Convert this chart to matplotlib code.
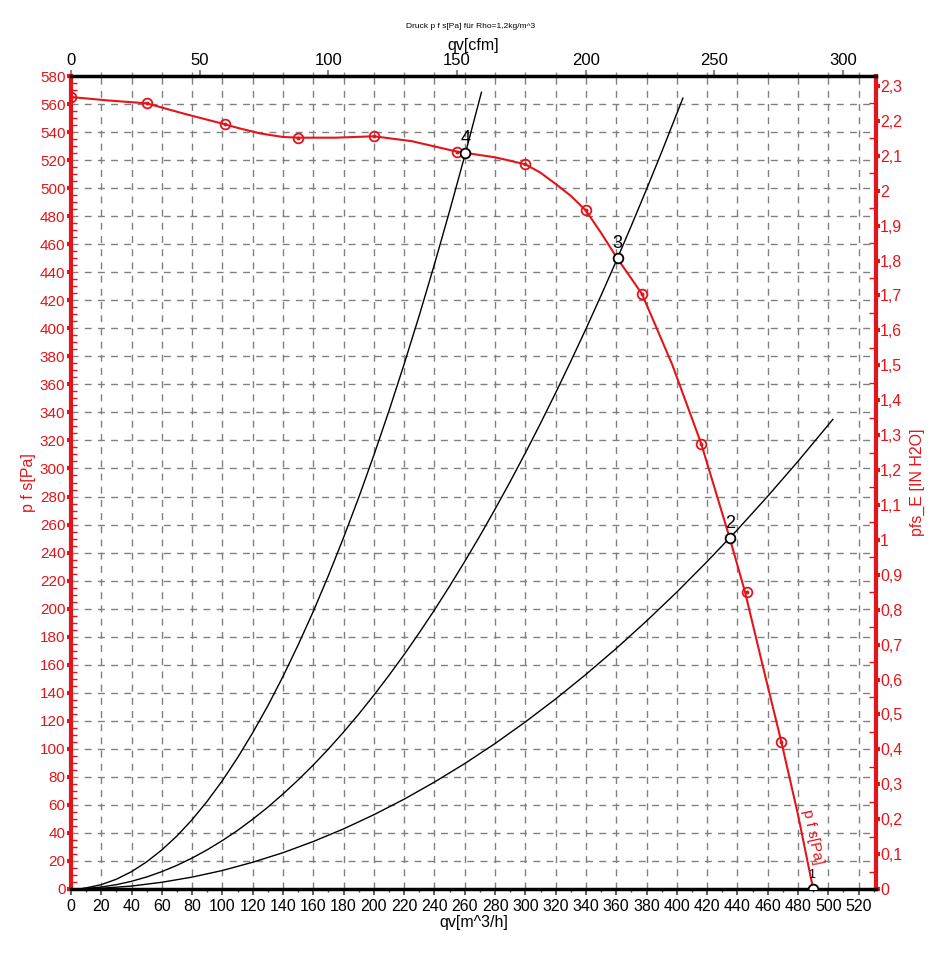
import matplotlib
matplotlib.use("Agg")
import matplotlib.pyplot as plt
from matplotlib.ticker import MultipleLocator, FixedLocator, FuncFormatter

plt.rcParams['font.family'] = ['Liberation Sans', 'DejaVu Sans']

RED = '#e3151a'
GRID = '#808080'

# Fan curve p_fs [Pa] vs qv [m^3/h]
fan_q = [0, 25, 50, 75, 100, 110, 125, 140, 150, 175, 200, 225, 255, 280, 300,
         310, 320, 330, 340, 350, 360, 377, 397, 416, 435, 445, 457, 469, 480, 490]
fan_p = [565, 562.5, 560.5, 553, 546, 543, 539, 536.5, 536, 536, 537, 533.5, 526,
         522, 517, 511, 503, 494.5, 484, 468, 451, 424.5, 374, 318, 250, 212, 158,
         105, 53, 0]

# Measured points (circle markers)
meas_q = [0, 50, 102, 150, 200, 255, 300, 340, 377, 416, 446, 469]
meas_p = [565, 560.7, 545.8, 535.8, 537.2, 525.8, 517, 484.4, 424.5, 317.5, 211.9, 104.9]

# System curves
sys4_q = [8, 10, 20, 30, 40, 50, 60, 70, 80, 90, 100, 110, 120, 130, 140, 150,
          160, 170, 180, 190, 200, 210, 220, 230, 240, 250, 260, 271]
sys4_p = [0.5, 0.8, 3.1, 7.0, 12.4, 19.4, 27.9, 37.9, 49.5, 62.7, 77.4, 93.7,
          111.5, 130.8, 151.7, 174.2, 198.1, 223.7, 250.8, 279.4, 309.6, 341.3,
          374.6, 409.4, 445.8, 483.8, 523.2, 568.4]
sys3_q = [8, 10, 20, 30, 40, 50, 60, 70, 80, 90, 100, 110, 120, 130, 140, 150,
          160, 170, 180, 190, 200, 210, 220, 230, 240, 250, 260, 270, 280, 290,
          300, 310, 320, 330, 340, 350, 360, 370, 380, 390, 404]
sys3_p = [0.2, 0.3, 1.4, 3.1, 5.5, 8.6, 12.4, 16.9, 22.1, 28.0, 34.6, 41.8, 49.8,
          58.4, 67.8, 77.8, 88.5, 99.9, 112.0, 124.8, 138.3, 152.5, 167.3, 182.9,
          199.1, 216.1, 233.7, 252.0, 271.0, 290.7, 311.1, 332.2, 354.0, 376.5,
          399.6, 423.5, 448.0, 473.3, 499.2, 525.8, 564.2]
sys2_q = [8, 20, 40, 60, 80, 100, 120, 140, 160, 180, 200, 220, 240, 260, 280,
          300, 320, 340, 360, 380, 400, 420, 440, 460, 480, 503]
sys2_p = [0.1, 0.5, 2.1, 4.8, 8.5, 13.2, 19.1, 25.9, 33.9, 42.9, 53.0, 64.1, 76.3,
          89.5, 103.8, 119.2, 135.6, 153.1, 171.6, 191.2, 211.8, 233.6, 256.3,
          280.2, 305.1, 335.0]

# Operating points
op_labels = ['1', '2', '3', '4']
op_q = [490, 434.9, 360.9, 260.4]
op_p = [0, 250.4, 450.2, 525]

x_ticks = list(range(0, 521, 20))
y_ticks = list(range(0, 581, 20))
cfm_ticks = [0, 50, 100, 150, 200, 250, 300]
inh2o_ticks = [i / 10 for i in range(0, 24)]

CFM = 1.699
INH2O = 249.089

fig = plt.figure(figsize=(9.42, 9.67), dpi=100)
ax = fig.add_axes([71 / 942, 1 - 889 / 967, (876 - 71) / 942, (889 - 76) / 967])
ax.set_xlim(0, 531.5)
ax.set_ylim(0, 580)

# grid
ax.set_xticks(x_ticks)
ax.set_yticks(y_ticks)
ax.grid(True, color=GRID, linestyle=(0, (5, 4.5)), linewidth=1.0)
ax.set_axisbelow(True)

# system curves
for q, p in [(sys4_q, sys4_p), (sys3_q, sys3_p), (sys2_q, sys2_p)]:
    ax.plot(q, p, color='black', lw=1.0, zorder=3)

# fan curve
ax.plot(fan_q, fan_p, color=RED, lw=1.5, zorder=4)
ax.plot(meas_q, meas_p, ls='none', marker='o', ms=7, mfc='none', mec=RED,
        mew=1.3, zorder=5)
ax.plot(meas_q, meas_p, ls='none', marker='o', ms=1.8, mfc=RED, mec=RED,
        zorder=5)

# operating points
ax.plot(op_q, op_p, ls='none', marker='o', ms=7, mfc='white', mec='black',
        mew=1.3, zorder=6)
for lab, q, p in zip(op_labels, op_q, op_p):
    if lab == '1':
        ax.text(q - 1, p + 6, lab, fontsize=9, ha='center', va='bottom', zorder=7)
    else:
        ax.text(q, p + 4, lab, fontsize=13, ha='center', va='bottom', zorder=7)

ax.text(489.5, 37, 'p f s[Pa]', color=RED, fontsize=11, rotation=-78,
        ha='center', va='center', rotation_mode='anchor', zorder=7)

# spines
for s in ['left', 'right']:
    ax.spines[s].set_color(RED)
    ax.spines[s].set_linewidth(3)
for s in ['top', 'bottom']:
    ax.spines[s].set_color('black')
    ax.spines[s].set_linewidth(2.5)

# bottom axis
ax.xaxis.set_minor_locator(MultipleLocator(10))
ax.tick_params(axis='x', which='major', labelsize=11.5, length=4, width=1.2,
               color='#444444', pad=3)
ax.tick_params(axis='x', which='minor', length=2.5, width=1, color='#444444')
ax.set_xlabel('qv[m^3/h]', fontsize=11.5, labelpad=1)

# left axis
ax.yaxis.set_minor_locator(MultipleLocator(5))
ax.tick_params(axis='y', which='major', labelsize=11, labelcolor=RED,
               color=RED, length=3, width=3, pad=1, direction='out')
ax.tick_params(axis='y', which='minor', color=RED, length=4, width=1,
               direction='in')
ax.set_ylabel('p f s[Pa]', color=RED, fontsize=11.5, labelpad=3)

# top axis (cfm)
top = ax.secondary_xaxis('top', functions=(lambda q: q / CFM, lambda c: c * CFM))
top.set_xticks(cfm_ticks)
top.xaxis.set_minor_locator(FixedLocator([q / CFM for q in range(20, 531, 20)]))
top.tick_params(axis='x', which='major', labelsize=12, length=4, width=1.5,
                color='#888888', pad=2)
top.tick_params(axis='x', which='minor', length=3, width=1, color='#888888')
top.set_xlabel('qv[cfm]', fontsize=11.5, labelpad=2)
top.spines['top'].set_visible(False)

# right axis (IN H2O)
right = ax.secondary_yaxis('right', functions=(lambda p: p / INH2O, lambda h: h * INH2O))
right.set_yticks(inh2o_ticks)
right.yaxis.set_minor_locator(FixedLocator([i / 100 for i in range(5, 231, 10)]))
right.yaxis.set_major_formatter(FuncFormatter(lambda v, pos: ('%g' % round(v, 2)).replace('.', ',')))
right.tick_params(axis='y', which='major', labelsize=11.5, labelcolor=RED,
                  color=RED, length=3, width=3, pad=0, direction='out')
right.tick_params(axis='y', which='minor', color=RED, length=5, width=1,
                  direction='in')
right.set_ylabel('pfs_E [IN H2O]', color=RED, fontsize=11.5, labelpad=5)
right.spines['right'].set_visible(False)

fig.text(0.5, 1 - 27 / 967, 'Druck p f s[Pa] für Rho=1,2kg/m^3', fontsize=6,
         ha='center', va='center')

fig.savefig('out.png', dpi=100)
